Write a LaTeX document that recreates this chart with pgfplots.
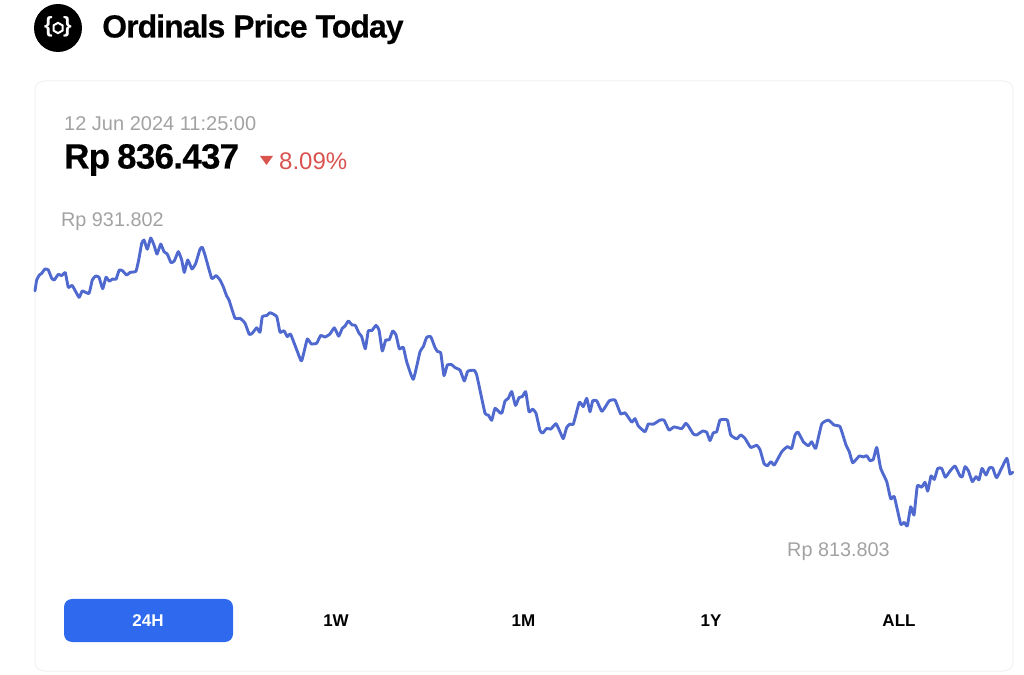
\documentclass[border=0pt]{standalone}
\usepackage{fontspec}
\usepackage{pgfplots}
\pgfplotsset{compat=1.18}
\usepackage{pgfplotstable}
\setmainfont{Liberation Sans}
\definecolor{priceline}{HTML}{4F69CF}
\definecolor{labelgray}{HTML}{A2A2A2}
\definecolor{downred}{HTML}{D9534F}
\definecolor{activeblue}{HTML}{2F69EE}
\definecolor{cardline}{HTML}{F1F1F1}

% position along the 24h window, price in thousand Rp
\pgfplotstableread{
x y
35 910.1
36.7 914.6
39.3 916.6
41.7 917.3
45 919.1
48.3 918.7
51.7 915.3
54.3 914.6
58.3 916.9
61.7 916.4
65.3 917.6
68.3 911.6
72.3 912.3
79 907.5
82.3 910.1
89 909.1
92.3 914.6
95.7 916.2
99 915.7
102.7 911.0
106 915.7
109.3 914.1
112.7 915.0
116 914.9
119.3 918.7
122.7 918.3
126.7 916.6
130 917.7
136 918.2
139 923.5
141.7 929.6
144 931.0
147.3 927.2
150.7 931.8
154 928.9
157 925.2
160.7 929.3
164 926.2
167.3 925.2
171 921.7
174.3 922.4
178.3 926.2
181.7 922.8
184.3 917.7
187.7 922.8
192 919.1
195.7 921.4
200 927.2
202.3 928.0
205 924.8
211.7 915.3
216 916.4
220 914.6
223.3 911.8
226.7 908.0
229 906.4
235 898.9
240 898.9
245 896.9
249.3 892.3
252.3 892.8
256.7 895.0
260 893.2
262.3 899.6
266.7 900.0
270 901.2
276.7 899.6
280 893.2
284 893.8
287.3 891.4
290.7 892.3
301 881.5
303.3 883.9
307.3 890.4
311.3 888.4
316.7 888.7
320.7 891.9
325 891.2
330 892.5
334.3 895.0
338.7 891.6
342.3 894.8
345 895.7
348.3 897.8
352 896.2
355.3 896.0
359 892.8
361.7 891.4
365.3 886.4
368.3 893.8
371.7 893.8
376 896.0
379 894.1
382.3 885.5
385.7 890.0
389.3 890.1
392.7 893.7
396 892.1
399.3 886.4
403.3 887.0
406.7 881.1
413.3 873.9
420 885.2
423.3 887.3
426.7 891.1
430.7 891.4
435 886.9
437.7 885.2
440.7 884.8
444 875.4
447.3 879.8
451.7 879.9
455 878.7
460 877.7
464.3 873.2
467.7 877.2
474 877.6
476.7 875.7
485 860.0
488.3 859.3
491.7 857.1
495 862.0
500 860.2
502 860.2
505 865.0
508.3 866.1
511.7 868.9
515.5 863.2
519 866.4
522.3 866.8
525.7 868.8
529 860.6
532.7 861.7
536 860.0
540 852.9
542.7 851.9
546.7 853.8
550.7 853.5
556 855.7
560 852.4
563.3 849.6
566.7 854.2
570 855.6
573.3 855.5
579.3 864.5
583.3 862.7
586.7 866.1
590 860.6
592.7 865.1
596.7 865.1
601.7 860.8
605 862.4
609.3 865.1
615 865.4
620.7 859.7
625 860.2
631.7 856.4
635 857.8
638.3 854.8
645 852.4
648.3 855.6
653.3 855.5
660 857.2
664 857.2
669 853.1
674 854.4
681.7 853.7
685.7 855.9
688.3 854.8
693.3 851.5
696.7 851.1
702.7 852.7
706.7 852.2
710 848.8
713.3 852.0
716.7 852.4
720 857.2
727.3 857.2
730.7 851.1
736.7 849.5
740.7 851.1
745 849.7
750.7 846.0
756.7 846.9
760 845.1
764 839.4
767.3 838.5
771 840.2
774.3 838.8
781.7 844.2
787.3 846.3
791.7 845.6
795 851.1
798 852.3
803.3 848.3
808.3 846.7
811.7 848.3
815.7 845.6
821.7 855.6
828.3 857.2
834 855.2
840 854.5
846 847.0
849.3 844.2
852.7 839.7
859.3 842.5
863.3 842.1
866.7 842.6
870 840.6
873.3 841.1
876.7 846.0
880.7 837.4
886.7 832.0
890.7 824.9
894.3 825.8
900.7 814.6
904.3 815.3
907.3 813.8
910.7 821.7
914 818.3
917.3 830.2
921.7 829.7
925 831.7
927.7 828.1
931 834.3
934.3 832.9
937.7 837.4
941.7 837.4
945.3 833.8
950 836.3
955 838.4
960 834.3
962.3 834.0
965 838.1
968.3 836.5
972.3 832.0
976 834.0
979 832.7
982 837.4
986 834.7
989.3 837.6
992.7 837.6
996.7 833.6
1006.7 841.5
1010 835.1
1012.7 835.9
}\pricetable

\begin{document}
\begin{tikzpicture}
\path[use as bounding box] (0,0) rectangle (1024pt,674pt);
% page furniture, in reference pixels measured from the top left
\begin{scope}[x=1pt,y=-1pt,yshift=674pt]
  \draw[cardline,line width=1pt,rounded corners=9pt] (35,671) -- (35,81) -- (1013,81) -- (1013,671) -- cycle;
  \fill[black] (58,28) circle (24);
  \draw[white,line width=2pt] (58,22.8) -- (62.5,25.4) -- (62.5,30.6) -- (58,33.2) -- (53.5,30.6) -- (53.5,25.4) -- cycle;
  \node[white,font=\fontsize{22}{22}\selectfont\bfseries] at (48.5,27) {\{};
  \node[white,font=\fontsize{22}{22}\selectfont\bfseries] at (67.5,27) {\}};
  \node[anchor=base west,inner sep=0pt,font=\fontsize{32}{32}\selectfont\bfseries] at (102,37.5)
    {\addfontfeature{LetterSpace=-3,FakeBold=0.4}Ordinals Price Today};
  \node[anchor=base west,inner sep=0pt,labelgray,font=\fontsize{20}{20}\selectfont] at (64,130.5) {12 Jun 2024 11:25:00};
  \node[anchor=base west,inner sep=0pt,font=\fontsize{35}{35}\selectfont\bfseries] at (64,168.5)
    {\addfontfeature{LetterSpace=-2.1,FakeBold=0.4}Rp\hspace{-2pt} 836.437};
  \fill[downred] (260,156) -- (273,156) -- (266.5,165) -- cycle;
  \node[anchor=base west,inner sep=0pt,downred,font=\fontsize{24}{24}\selectfont] at (279,170) {8.09\%};
  \node[anchor=base west,inner sep=0pt,labelgray,font=\fontsize{19.8}{20}\selectfont] at (61,227) {Rp 931.802};
  \node[anchor=base west,inner sep=0pt,labelgray,font=\fontsize{19.8}{20}\selectfont] at (787,557) {Rp 813.803};
  \fill[activeblue,rounded corners=8pt] (64,599) rectangle (233,642);
  \node[white,font=\fontsize{17}{17}\selectfont\bfseries] at (148,621) {24H};
  \node[font=\fontsize{17}{17}\selectfont\bfseries] at (336,621) {1W};
  \node[font=\fontsize{17}{17}\selectfont\bfseries] at (523.5,621) {1M};
  \node[font=\fontsize{17}{17}\selectfont\bfseries] at (711,621) {1Y};
  \node[font=\fontsize{17}{17}\selectfont\bfseries] at (899,621) {ALL};
\end{scope}
\begin{axis}[
    at={(0,0)},anchor=south west,
    scale only axis,
    width=1024pt,height=674pt,
    xmin=0,xmax=1024,
    ymin=753.17,ymax=1029.31,
    hide axis
  ]
  \addplot[priceline,line width=2.9pt,line join=round,line cap=round,smooth,tension=0.25] table[x=x,y=y] {\pricetable};
\end{axis}
\end{tikzpicture}
\end{document}
